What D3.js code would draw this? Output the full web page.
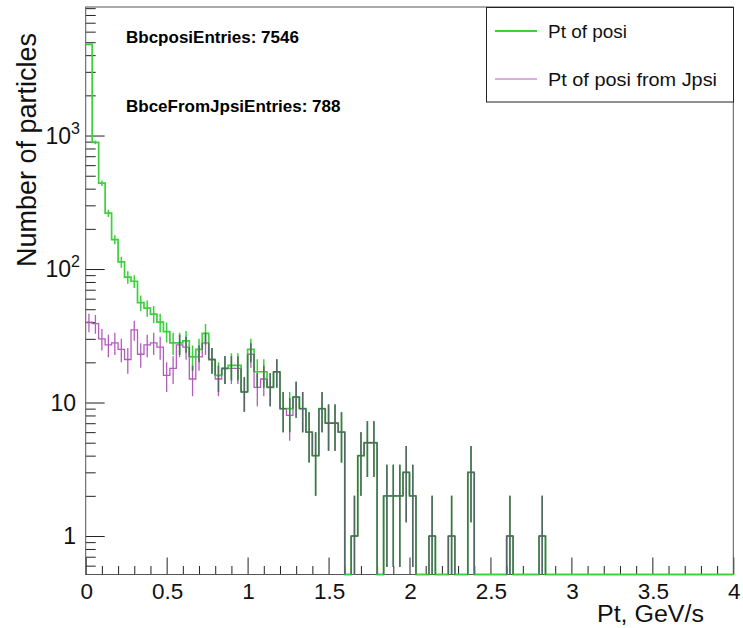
<!DOCTYPE html>
<html><head><meta charset="utf-8">
<script src="https://cdn.jsdelivr.net/npm/d3@7/dist/d3.min.js"></script>
<style>body{margin:0;background:#fff}svg{display:block}text{font-family:"Liberation Sans",Arial,Helvetica,sans-serif}</style>
</head><body>
<svg id="c" width="743" height="628"></svg>
<script>
// ---- data ----
const binWidth = 0.04;          // GeV/s
const nBins = 100;              // 0 .. 4 GeV/s
const ptOfPosi = [
  4820, 890, 440, 262, 166, 113, 87, 81, 56, 51,
  46, 40, 34, 28, 28, 29, 22, 25, 33, 21,
  16, 18, 19, 19, 12, 25, 17, 17, 13, 17,
  9, 9, 11, 9, 6, 4, 9, 7, 7, 6,
  0, 1, 4, 5, 5, 0, 2, 2, 2, 3,
  2, 0, 0, 1, 0, 0, 1, 0, 0, 3,
  0, 0, 0, 0, 0, 1, 0, 0, 0, 0,
  1, 0, 0, 0, 0, 0, 0, 0, 0, 0,
  0, 0, 0, 0, 0, 0, 0, 0, 0, 0,
  0, 0, 0, 0, 0, 0, 0, 0, 0, 0
];
const ptOfPosiFromJpsi = [
  40, 39, 30, 27, 28, 25, 21, 35, 23, 27,
  28, 26, 16, 18, 27, 26, 15, 22, 28, 21,
  15, 18, 18, 18, 12, 23, 13, 15, 13, 17,
  9, 8, 11, 9, 6, 4, 9, 7, 7, 6,
  0, 1, 4, 5, 5, 0, 2, 2, 2, 3,
  2, 0, 0, 1, 0, 0, 1, 0, 0, 3,
  0, 0, 0, 0, 0, 1, 0, 0, 0, 0,
  1, 0, 0, 0, 0, 0, 0, 0, 0, 0,
  0, 0, 0, 0, 0, 0, 0, 0, 0, 0,
  0, 0, 0, 0, 0, 0, 0, 0, 0, 0
];
const seriesNames = ["Pt of posi", "Pt of posi from Jpsi"];
const statLabels = ["BbcposiEntries: 7546", "BbceFromJpsiEntries: 788"];
const xTickValues = [0, 0.5, 1, 1.5, 2, 2.5, 3, 3.5, 4];
const xTickLabels = ["0", "0.5", "1", "1.5", "2", "2.5", "3", "3.5", "4"];
const yTickValues = [1, 10, 100, 1000];
const yTickLabels = [["1", ""], ["10", ""], ["10", "2"], ["10", "3"]];
const xTitle = "Pt, GeV/s";
const yTitle = "Number of particles";

// ---- layout ----
const svg = d3.select("#c");
const fx0 = 85.7, fx1 = 733.3, fy0 = 7, fy1 = 574.5;
const cGreen = "#3cd03c", cPurple = "#b35cbb", cOver = "#566666";

const x = d3.scaleLinear().domain([0, 4]).range([fx0, fx1]);
const y = d3.scaleLog().domain([0.515, 9180]).range([fy1, fy0]).clamp(true);
const yv = v => v > 0 ? y(v) : fy1;
const edges = d3.range(nBins + 1).map(i => i * binWidth);

svg.append("rect").attr("width", 743).attr("height", 628).attr("fill", "#fff");

// axes ticks (inside frame, ROOT style)
const yMinor = [];
[0.1, 1, 10, 100, 1000].forEach(d => { for (let k = 2; k <= 9; k++) { const v = k * d; if (v > 0.515 && v < 9180) yMinor.push(v); } });
const xMinor = d3.range(0, 41).map(i => i / 10).filter(v => Math.abs(v * 2 - Math.round(v * 2)) > 1e-6);

function styleAxis(g) { g.select(".domain").remove(); g.selectAll("line").attr("stroke", "#222"); }

svg.append("g").attr("transform", `translate(${fx0},0)`)
  .call(d3.axisLeft(y).tickValues(yMinor).tickSize(-10).tickFormat("")).call(styleAxis);
svg.append("g").attr("transform", `translate(${fx0},0)`)
  .call(d3.axisLeft(y).tickValues(yTickValues).tickSize(-19).tickFormat("")).call(styleAxis);
svg.append("g").attr("transform", `translate(0,${fy1})`)
  .call(d3.axisBottom(x).tickValues(xMinor).tickSize(-8.5).tickFormat("")).call(styleAxis);
svg.append("g").attr("transform", `translate(0,${fy1})`)
  .call(d3.axisBottom(x).tickValues(xTickValues).tickSize(-17).tickFormat("")).call(styleAxis);

// tick labels
svg.append("g").selectAll("text").data(xTickValues).join("text")
  .attr("x", d => x(d) + 1).attr("y", 599).attr("text-anchor", "middle")
  .attr("font-size", 22.5).attr("fill", "#111").text((d, i) => xTickLabels[i]);

const yl = svg.append("g").selectAll("text").data(yTickValues).join("text")
  .attr("x", (d, i) => yTickLabels[i][1] ? 80 : 76)
  .attr("y", d => y(d) + 8).attr("text-anchor", "end")
  .attr("font-size", 23).attr("fill", "#111");
yl.append("tspan").text((d, i) => yTickLabels[i][0]);
yl.append("tspan").attr("font-size", 16).attr("dy", -10).text((d, i) => yTickLabels[i][1]);

// titles
svg.append("text").attr("x", 704).attr("y", 622).attr("text-anchor", "end")
  .attr("font-size", 23).attr("textLength", 107).attr("lengthAdjust", "spacingAndGlyphs")
  .attr("fill", "#111").text(xTitle);
svg.append("text").attr("transform", "translate(36,150) rotate(-90)").attr("text-anchor", "middle")
  .attr("font-size", 27).attr("fill", "#111").text(yTitle);

// histograms
function stepPath(vals) {
  const p = d3.path();
  p.moveTo(x(edges[0]), yv(vals[0]));
  for (let i = 0; i < vals.length; i++) {
    if (i > 0) p.lineTo(x(edges[i]), yv(vals[i]));
    p.lineTo(x(edges[i + 1]), yv(vals[i]));
  }
  return p.toString();
}
function errPath(vals) {
  const p = d3.path();
  vals.forEach((v, i) => {
    if (v <= 0) return;
    const cx = x((edges[i] + edges[i + 1]) / 2), e = Math.sqrt(v);
    p.moveTo(cx, yv(v - e)); p.lineTo(cx, yv(v + e));
  });
  return p.toString();
}
function overlapPath(a, b) {
  const p = d3.path();
  const n = a.length;
  for (let i = 0; i < n; i++) {
    if (a[i] === b[i] && a[i] > 0) { p.moveTo(x(edges[i]), yv(a[i])); p.lineTo(x(edges[i + 1]), yv(a[i])); }
    if (a[i] > 0 && b[i] > 0) {
      const lo = Math.max(a[i] - Math.sqrt(a[i]), b[i] - Math.sqrt(b[i]));
      const hi = Math.min(a[i] + Math.sqrt(a[i]), b[i] + Math.sqrt(b[i]));
      if (hi > lo) { const cx = x((edges[i] + edges[i + 1]) / 2); p.moveTo(cx, yv(lo)); p.lineTo(cx, yv(hi)); }
    }
    if (i < n - 1) {
      const lo = Math.max(Math.min(a[i], a[i + 1]), Math.min(b[i], b[i + 1]));
      const hi = Math.min(Math.max(a[i], a[i + 1]), Math.max(b[i], b[i + 1]));
      if (hi > lo) { const ex = x(edges[i + 1]); p.moveTo(ex, yv(lo)); p.lineTo(ex, yv(hi)); }
    }
  }
  return p.toString();
}
const hg = svg.append("g").attr("fill", "none");
hg.append("path").attr("d", stepPath(ptOfPosiFromJpsi)).attr("stroke", cPurple).attr("stroke-width", 1.3);
hg.append("path").attr("d", errPath(ptOfPosiFromJpsi)).attr("stroke", cPurple).attr("stroke-width", 1.3);
hg.append("path").attr("d", stepPath(ptOfPosi)).attr("stroke", cGreen).attr("stroke-width", 1.7);
hg.append("path").attr("d", errPath(ptOfPosi)).attr("stroke", cGreen).attr("stroke-width", 1.5);
hg.append("path").attr("d", overlapPath(ptOfPosi, ptOfPosiFromJpsi)).attr("stroke", cOver).attr("stroke-width", 1.4);

// frame
svg.append("rect").attr("x", fx0).attr("y", fy0).attr("width", fx1 - fx0).attr("height", fy1 - fy0)
  .attr("fill", "none").attr("stroke", "#555").attr("stroke-width", 1);
// zero-content bins sit on the lower frame edge
hg.raise();

// stats text
svg.append("g").selectAll("text").data(statLabels).join("text")
  .attr("x", 126).attr("y", (d, i) => i ? 112 : 43)
  .attr("font-size", 17).attr("font-weight", "bold").attr("fill", "#000").text(d => d);

// legend
const lg = svg.append("g");
lg.append("rect").attr("x", 486.5).attr("y", 7.5).attr("width", 247).attr("height", 94.5)
  .attr("fill", "#fff").attr("stroke", "#222").attr("stroke-width", 1);
const legendColors = [cGreen, cPurple], legendW = [2, 1.2], legendY = [31, 79], legendTL = [79, 169];
seriesNames.forEach((name, i) => {
  lg.append("line").attr("x1", 495).attr("x2", 537).attr("y1", legendY[i]).attr("y2", legendY[i])
    .attr("stroke", legendColors[i]).attr("stroke-width", legendW[i]);
  lg.append("text").attr("x", 548).attr("y", legendY[i] + 6.5).attr("font-size", 18)
    .attr("textLength", legendTL[i]).attr("lengthAdjust", "spacingAndGlyphs")
    .attr("fill", "#111").text(name);
});
</script>
</body></html>
